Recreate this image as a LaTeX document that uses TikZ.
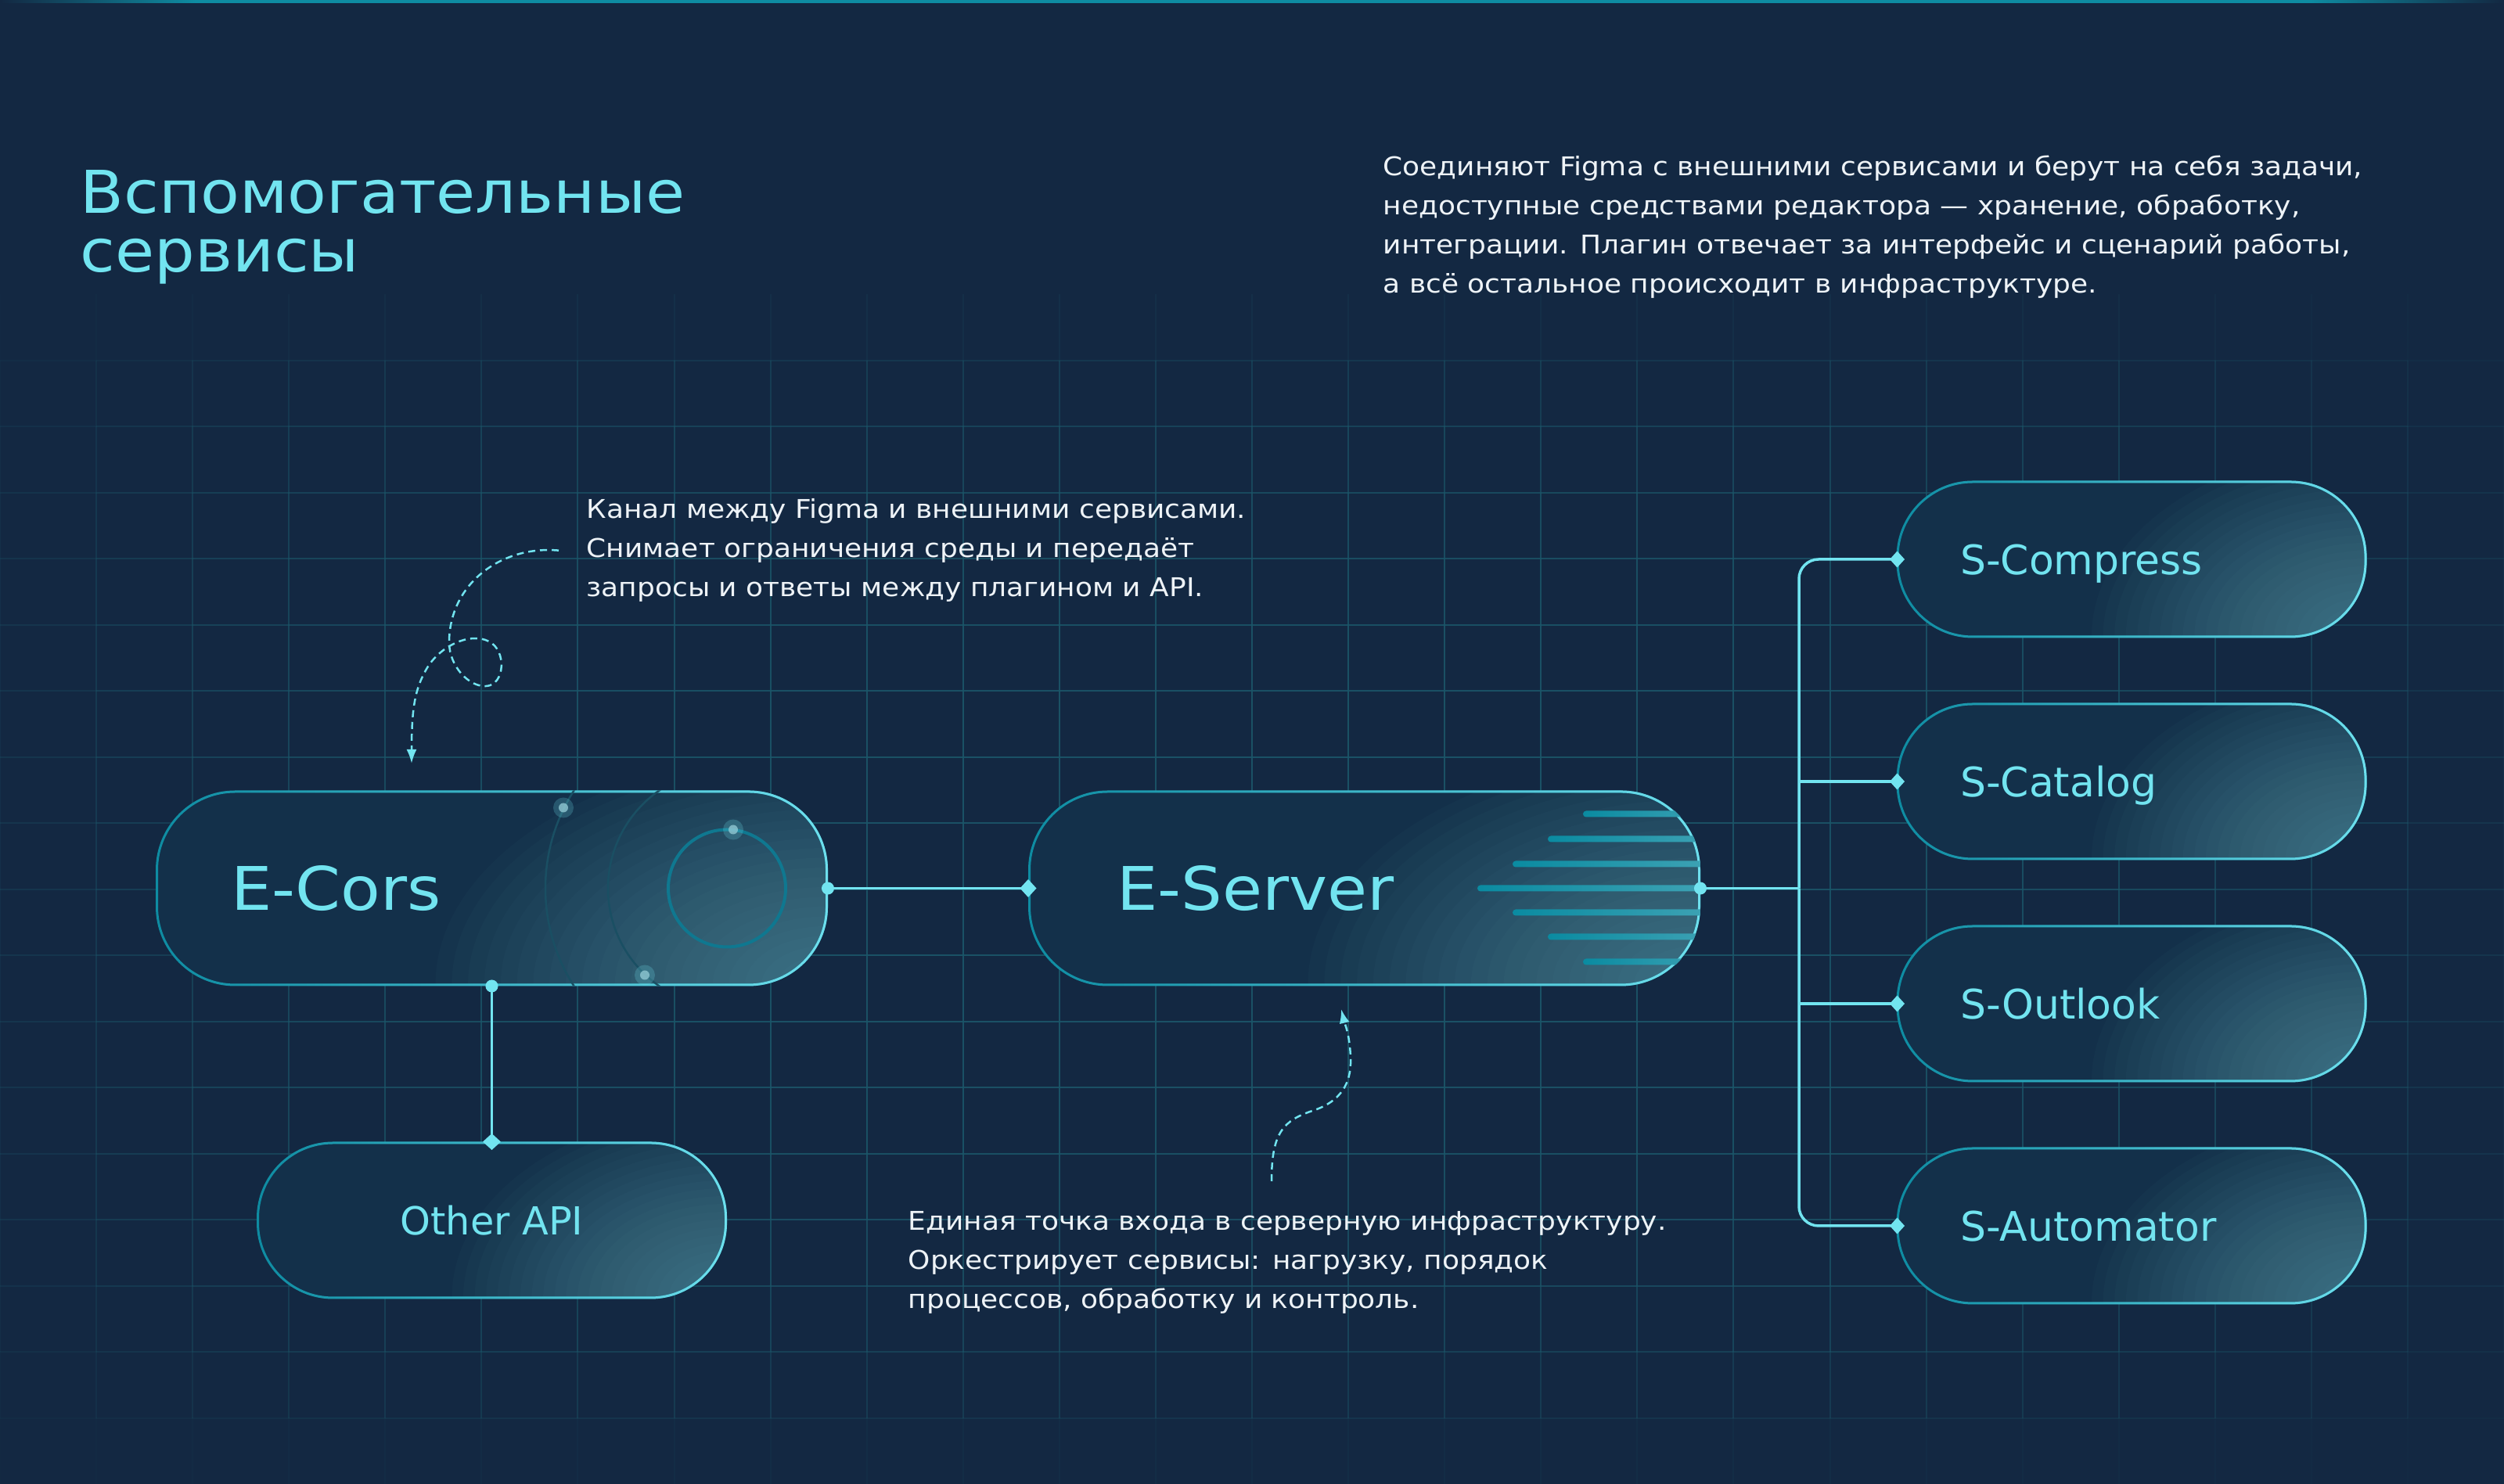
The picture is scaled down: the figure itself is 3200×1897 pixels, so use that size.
\documentclass[tikz,border=0pt]{standalone}
\usepackage{fontspec}
\setmainfont{DejaVu Sans}
\newfontfamily\widefont{DejaVu Sans}[FakeStretch=1.08]
\newfontfamily\bodyfont{DejaVu Sans}[FakeStretch=1.09]
\usetikzlibrary{arrows.meta,positioning,calc,fadings}
\definecolor{bgnavy}{HTML}{132842}
\definecolor{pillbase}{HTML}{13304A}
\definecolor{pillglow}{HTML}{6FB8C6}
\definecolor{pillteal}{HTML}{0E8CA2}
\definecolor{pilllight}{HTML}{6FE0EE}
\definecolor{linecyan}{HTML}{72E4F0}
\definecolor{gridteal}{HTML}{1B5669}
\definecolor{barteal}{HTML}{0A8BA1}
\definecolor{ringteal}{HTML}{0F7890}
\definecolor{arcteal}{HTML}{1A4F63}
\definecolor{dotcore}{HTML}{8FC7D2}
\definecolor{textwhite}{HTML}{EEF3F7}
\tikzfading[name=fadein right, left color=transparent!100, right color=transparent!0]

\begin{document}
\begin{tikzpicture}[
  x=0.1mm, y=0.1mm,
  pill/.style={draw=pillteal, line width=0.3mm, fill=pillbase, rounded corners=10mm, inner sep=0pt, align=left, text depth=0pt, text=linecyan,
    postaction={draw=pilllight, line width=0.3mm, path fading=fadein right}},
  glow/.style 2 args={path picture={
    \foreach \k in {1,...,24}
      \fill[pillglow, opacity=0.033] (path picture bounding box.south east) ellipse [x radius=#1*\k/24, y radius=#2*\k/24];}},
  bigpill/.style={pill, glow={50mm}{30mm}, minimum width=85.6mm, minimum height=24.7mm, font=\widefont\fontsize{7.68mm}{8mm}\selectfont},
  smallpill/.style={pill, glow={35mm}{24mm}, rounded corners=9.6mm, minimum width=59.8mm, minimum height=19.8mm, font=\fontsize{5.2mm}{6mm}\selectfont},
  note/.style={anchor=north west, inner sep=0pt, align=left, text=textwhite, font=\bodyfont\fontsize{3.3mm}{5mm}\selectfont},
  gridline/.style={gridteal, line width=0.2mm},
  link/.style={line width=0.35mm, linecyan, shorten <=-0.8mm, shorten >=-1.05mm},
  dotdiamond/.style={link, {Circle[length=1.6mm]}-{Diamond[length=2.1mm, width=2.3mm]}},
  dotonly/.style={link, shorten >=0mm, {Circle[length=1.6mm]}-},
  branch/.style={link, shorten <=0mm, -{Diamond[length=1.9mm, width=2.1mm]}},
  notearrow/.style={line width=0.25mm, linecyan, dash pattern=on 0.9mm off 0.6mm, -{Latex[length=1.8mm, width=1.3mm]}},
  bar/.style={left color=barteal, right color=barteal!45!pillglow, rounded corners=0.4mm}
]
\useasboundingbox (0,0) rectangle (3200,1897);
\fill[bgnavy] (0,0) rectangle (3200,1897);

% grid, fading out towards the edges
\foreach \i in {0,...,26} \foreach \j in {0,...,21} {
  \pgfmathsetmacro\ga{(123.08*\i-1600)/1700}
  \pgfmathsetmacro\gb{(1816.25-84.5*\j-767)/750}
  \pgfmathsetmacro\gop{max(0,0.9*(1-(\ga)*(\ga)*(\ga)*(\ga))*(1-(\gb)*(\gb)*(\gb)*(\gb)))}
  \draw[gridline, opacity=\gop] ({123.08*\i},{1858.5-84.5*\j}) -- ++(0,-84.5);
}
\foreach \j in {0,...,22} \foreach \i in {0,...,25} {
  \pgfmathsetmacro\ga{(123.08*\i+61.54-1600)/1700}
  \pgfmathsetmacro\gb{(1858.5-84.5*\j-767)/750}
  \pgfmathsetmacro\gop{max(0,0.9*(1-(\ga)*(\ga)*(\ga)*(\ga))*(1-(\gb)*(\gb)*(\gb)*(\gb)))}
  \draw[gridline, opacity=\gop] ({123.08*\i},{1858.5-84.5*\j}) -- ++(123.08,0);
}

% top bar
\shade[left color=bgnavy, right color=pillteal] (0,1893) rectangle (250,1897);
\fill[pillteal] (250,1893) rectangle (2950,1897);
\shade[left color=pillteal, right color=bgnavy] (2950,1893) rectangle (3200,1897);

% texts
\node[anchor=north west, inner sep=0pt, align=left, text=linecyan, font=\widefont\fontsize{7.54mm}{7.5mm}\selectfont] (title) at (102,1680) {Вспомогательные\\сервисы};
\node[note] (intro) at (1767,1699) {Соединяют Figma с внешними сервисами и берут на себя задачи,\\недоступные средствами редактора — хранение, обработку,\\интеграции. Плагин отвечает за интерфейс и сценарий работы,\\а всё остальное происходит в инфраструктуре.};
\node[note] (corsnote) at (749,1260) {Канал между Figma и внешними сервисами.\\Снимает ограничения среды и передаёт\\запросы и ответы между плагином и API.};
\node[note] (servernote) at (1160,349) {Единая точка входа в серверную инфраструктуру.\\Оркестрирует сервисы: нагрузку, порядок\\процессов, обработку и контроль.};

% pills
\node[bigpill, text width=66.7mm] (ecors) at (628.5,761.5) {E-Cors};
\node[bigpill, text width=63.2mm, right=25.6mm of ecors] (eserver) {E-Server};
\node[smallpill, align=center, font=\fontsize{4.94mm}{6mm}\selectfont, below=19.9mm of ecors] (otherapi) {Other API};
\node[smallpill, text width=43.8mm] (scompress) at (2724,1182) {S-Compress};
\node[smallpill, text width=43.8mm, below=8.3mm of scompress] (scatalog) {S-Catalog};
\node[smallpill, text width=43.8mm, below=8.3mm of scatalog] (soutlook) {S-Outlook};
\node[smallpill, text width=43.8mm, below=8.3mm of soutlook] (sautomator) {S-Automator};

% E-Cors rings
\begin{scope}
  \clip[rounded corners=10mm] (ecors.south west) rectangle (ecors.north east);
  \coordinate (ring) at ([xshift=-12.9mm]ecors.east);
  \draw[arcteal, line width=0.25mm] (ring) circle (23.2mm);
  \draw[arcteal, line width=0.25mm] (ring) circle (15.2mm);
  \draw[ringteal, line width=0.4mm] (ring) circle (7.5mm);
  \foreach \dx/\dy in {-209/103, 8/75, -105/-111} {
    \fill[linecyan, opacity=0.22] ([shift={(\dx,\dy)}]ring) circle (1.3mm);
    \fill[dotcore, opacity=0.8] ([shift={(\dx,\dy)}]ring) circle (0.6mm);
  }
\end{scope}

% E-Server bars
\begin{scope}
  \clip[rounded corners=10mm] (eserver.south west) rectangle (eserver.north east);
  \foreach \dy/\dx in {95/150, 63/195, 31/240, 0/285, -31/240, -62/195, -94/150}
    \shade[bar] ([shift={(-\dx,\dy-4)}]eserver.east) rectangle ++(\dx+30,8);
\end{scope}

% connectors
\draw[dotdiamond] (ecors.east) -- (eserver.west);
\draw[dotdiamond] (ecors.south) -- (otherapi.north);
\coordinate (bus) at ([xshift=12.6mm]eserver.east);
\draw[dotonly] (eserver.east) -- (bus);
\draw[branch, rounded corners=2.5mm] (bus) |- (scompress.west);
\draw[branch, rounded corners=2.5mm] (bus) |- (sautomator.west);
\draw[branch] (bus |- scatalog.west) -- (scatalog.west);
\draw[branch] (bus |- soutlook.west) -- (soutlook.west);

% note arrows
\coordinate (corsin) at (526,921);
\coordinate (serverin) at (1714,607);
\draw[notearrow] ([xshift=-3.5mm]corsnote.west) .. controls (640,1200) and (574,1150) .. (574,1076)
  .. controls (574,1045) and (600,1018) .. (622,1020)
  .. controls (645,1022) and (648,1065) .. (625,1077)
  .. controls (600,1090) and (560,1070) .. (544,1040)
  .. controls (530,1015) and (526,990) .. (corsin);
\draw[notearrow] ([shift={(465,38)}]servernote.north west) .. controls (1625,450) and (1640,465) .. (1680,478)
  .. controls (1720,492) and (1727,520) .. (1726,545)
  .. controls (1725,575) and (1718,590) .. (serverin);
\end{tikzpicture}
\end{document}
